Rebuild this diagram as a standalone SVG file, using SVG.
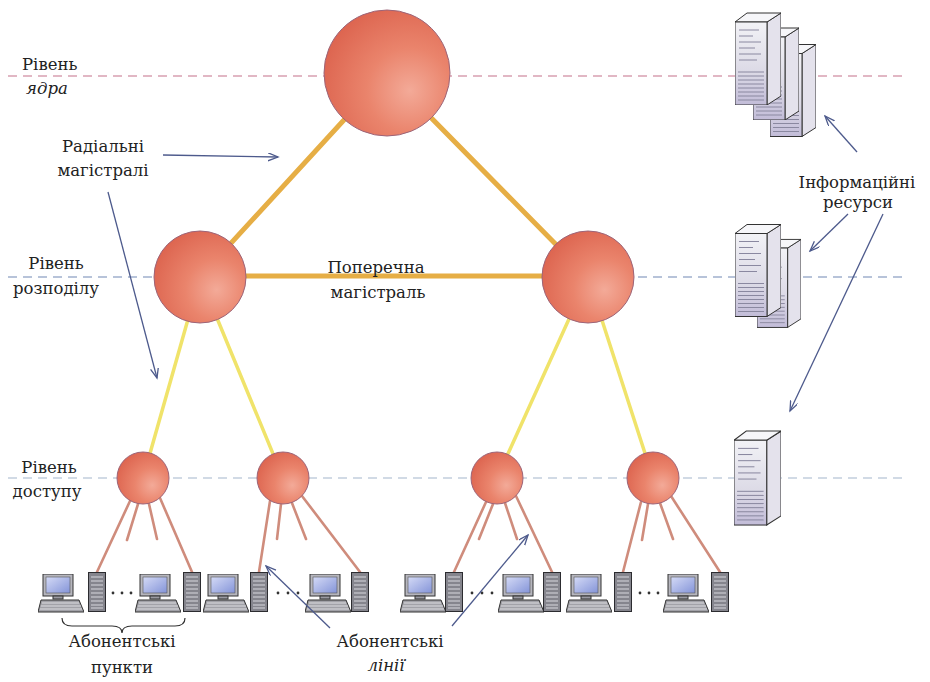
<svg xmlns="http://www.w3.org/2000/svg" width="930" height="682" viewBox="0 0 930 682">
<style>
  .t{font-family:"DejaVu Serif","Liberation Serif",serif;font-size:16.5px;fill:#222}
  .it{font-style:italic}
  .mid{text-anchor:middle}
  .lvl{fill:none;stroke-width:1.2;stroke-dasharray:9 6}
  .trunk{stroke:#e6ae45;stroke-width:5;stroke-linecap:round}
  .feed{stroke:#f0e36a;stroke-width:3.5;stroke-linecap:round}
  .sub{stroke:#cf8c7c;stroke-width:2.6;stroke-linecap:round}
  .node{fill:url(#ball);stroke:#9c6478;stroke-width:1}
  .ptr{fill:none;stroke:#4d5a8c;stroke-width:1.3;marker-end:url(#head)}
  .edge{stroke:#333;stroke-width:1}
</style>
<defs>
  <radialGradient id="ball" cx="0.68" cy="0.64" r="0.75">
    <stop offset="0" stop-color="#f3aa98"/>
    <stop offset="0.45" stop-color="#ea846c"/>
    <stop offset="1" stop-color="#dc634e"/>
  </radialGradient>
  <linearGradient id="front" x1="0" y1="0" x2="0" y2="1">
    <stop offset="0" stop-color="#f2f2f6"/>
    <stop offset="0.6" stop-color="#dcdae6"/>
    <stop offset="1" stop-color="#c2bcd8"/>
  </linearGradient>
  <linearGradient id="scr" x1="0" y1="0" x2="1" y2="1">
    <stop offset="0" stop-color="#d4daf6"/>
    <stop offset="1" stop-color="#8494d8"/>
  </linearGradient>
  <marker id="head" markerUnits="userSpaceOnUse" markerWidth="12" markerHeight="10" refX="10" refY="4" orient="auto">
    <path d="M0,0 L10,4 L0,8" fill="none" stroke="#4d5a8c" stroke-width="1.3"/>
  </marker>
  <!-- rack-mounted server tower -->
  <symbol id="tower" viewBox="0 0 46 95">
    <polygon points="32,12 46,3 46,86 32,95" fill="#e4e2ec" class="edge"/>
    <polygon points="0,12 12,3 46,3 32,12" fill="#f6f6f9" class="edge"/>
    <rect x="0" y="12" width="32" height="83" fill="url(#front)" class="edge"/>
    <g stroke="#8a88a0" stroke-width="1">
      <line x1="4" y1="20" x2="24" y2="20"/><line x1="4" y1="26" x2="18" y2="26"/>
      <line x1="4" y1="32" x2="26" y2="32"/><line x1="4" y1="38" x2="20" y2="38"/>
      <line x1="4" y1="44" x2="26" y2="44"/><line x1="4" y1="50" x2="22" y2="50"/>
      <line x1="3" y1="62" x2="29" y2="62"/><line x1="3" y1="66" x2="29" y2="66"/>
      <line x1="3" y1="70" x2="29" y2="70"/><line x1="3" y1="74" x2="29" y2="74"/>
      <line x1="3" y1="78" x2="29" y2="78"/><line x1="3" y1="82" x2="29" y2="82"/>
      <line x1="3" y1="86" x2="29" y2="86"/><line x1="3" y1="90" x2="29" y2="90"/>
    </g>
  </symbol>
  <!-- desktop terminal -->
  <symbol id="pc" viewBox="0 0 46 40">
    <rect x="5" y="0" width="30" height="22" fill="#b6b6be" class="edge"/>
    <rect x="8" y="3" width="24" height="16" fill="url(#scr)" stroke="#555" stroke-width="0.6"/>
    <rect x="15" y="22" width="10" height="3" fill="#9a9aa2" class="edge"/>
    <polygon points="3,26 41,26 46,38 0,38" fill="#a2a2a8" class="edge"/>
    <g stroke="#ececf0" stroke-width="0.8">
      <line x1="4" y1="29" x2="41" y2="29"/><line x1="3" y1="32" x2="43" y2="32"/><line x1="2" y1="35" x2="44" y2="35"/>
    </g>
  </symbol>
  <!-- subscriber system unit -->
  <symbol id="unit" viewBox="0 0 18 40">
    <rect x="0.5" y="0.5" width="17" height="39" fill="#85858d" stroke="#2c2c30" stroke-width="1"/>
    <g stroke="#d8d8de" stroke-width="1">
      <line x1="3" y1="5" x2="15" y2="5"/><line x1="3" y1="9" x2="15" y2="9"/>
      <line x1="3" y1="13" x2="15" y2="13"/><line x1="3" y1="17" x2="15" y2="17"/>
      <line x1="3" y1="21" x2="15" y2="21"/><line x1="3" y1="25" x2="15" y2="25"/>
      <line x1="3" y1="29" x2="15" y2="29"/><line x1="3" y1="33" x2="15" y2="33"/>
      <line x1="3" y1="36" x2="15" y2="36"/>
    </g>
  </symbol>
</defs>

<rect width="930" height="682" fill="#ffffff"/>

<!-- level guides -->
<g id="levels">
  <line class="lvl" x1="8" y1="76" x2="902" y2="76" stroke="#c4708a"/>
  <line class="lvl" x1="8" y1="277" x2="902" y2="277" stroke="#7088b4"/>
  <line class="lvl" x1="8" y1="478" x2="902" y2="478" stroke="#a4b6cc"/>
</g>

<!-- links between nodes -->
<g id="connectors">
  <line class="trunk" x1="387" y1="73" x2="200" y2="277"/>
  <line class="trunk" x1="387" y1="73" x2="588" y2="277"/>
  <line class="trunk" x1="200" y1="276" x2="588" y2="276"/>
  <line class="feed" x1="200" y1="277" x2="143" y2="478"/>
  <line class="feed" x1="200" y1="277" x2="283" y2="478"/>
  <line class="feed" x1="588" y1="277" x2="497" y2="478"/>
  <line class="feed" x1="588" y1="277" x2="653" y2="478"/>
  <line class="sub" x1="130" y1="501" x2="97" y2="572"/>
  <line class="sub" x1="138" y1="504" x2="127" y2="540"/>
  <line class="sub" x1="149" y1="504" x2="157" y2="539"/>
  <line class="sub" x1="160" y1="498" x2="192" y2="572"/>
  <line class="sub" x1="270" y1="501" x2="259" y2="572"/>
  <line class="sub" x1="281" y1="504" x2="277" y2="539"/>
  <line class="sub" x1="292" y1="503" x2="306" y2="539"/>
  <line class="sub" x1="302" y1="496" x2="360" y2="572"/>
  <line class="sub" x1="486" y1="502" x2="454" y2="572"/>
  <line class="sub" x1="493" y1="504" x2="479" y2="539"/>
  <line class="sub" x1="505" y1="503" x2="517" y2="539"/>
  <line class="sub" x1="516" y1="496" x2="552" y2="572"/>
  <line class="sub" x1="641" y1="502" x2="623" y2="572"/>
  <line class="sub" x1="648" y1="504" x2="642" y2="540"/>
  <line class="sub" x1="660" y1="503" x2="673" y2="539"/>
  <line class="sub" x1="671" y1="496" x2="720" y2="572"/>
</g>

<!-- switching nodes -->
<g id="node-core"><circle class="node" cx="387" cy="73" r="63"/></g>
<g id="node-dist-left"><circle class="node" cx="200" cy="277" r="46"/></g>
<g id="node-dist-right"><circle class="node" cx="588" cy="277" r="46"/></g>
<g id="node-access-1"><circle class="node" cx="143" cy="478" r="26"/></g>
<g id="node-access-2"><circle class="node" cx="283" cy="478" r="26"/></g>
<g id="node-access-3"><circle class="node" cx="497" cy="478" r="26"/></g>
<g id="node-access-4"><circle class="node" cx="653" cy="478" r="26"/></g>

<!-- information resources -->
<g id="resources-core">
  <use href="#tower" x="770" y="40" width="46" height="98"/>
  <use href="#tower" x="753" y="25" width="46" height="95"/>
  <use href="#tower" x="735" y="10" width="46" height="95"/>
</g>
<g id="resources-dist">
  <use href="#tower" x="757" y="232" width="44" height="100"/>
  <use href="#tower" x="735" y="218" width="46" height="102"/>
</g>
<g id="resources-access">
  <use href="#tower" x="734" y="425" width="47" height="103"/>
</g>

<!-- subscriber stations -->
<g id="stations">
  <use href="#pc" x="38" y="574" width="46" height="40"/>
  <use href="#unit" x="88" y="572" width="18" height="40"/>
  <use href="#pc" x="135" y="574" width="46" height="40"/>
  <use href="#unit" x="183" y="572" width="18" height="40"/>
  <use href="#pc" x="203" y="574" width="46" height="40"/>
  <use href="#unit" x="250" y="572" width="18" height="40"/>
  <use href="#pc" x="305" y="574" width="46" height="40"/>
  <use href="#unit" x="351" y="572" width="18" height="40"/>
  <use href="#pc" x="400" y="574" width="46" height="40"/>
  <use href="#unit" x="445" y="572" width="18" height="40"/>
  <use href="#pc" x="498" y="574" width="46" height="40"/>
  <use href="#unit" x="543" y="572" width="18" height="40"/>
  <use href="#pc" x="566" y="574" width="46" height="40"/>
  <use href="#unit" x="614" y="572" width="18" height="40"/>
  <use href="#pc" x="663" y="574" width="46" height="40"/>
  <use href="#unit" x="711" y="572" width="18" height="40"/>
  <g fill="#333">
    <circle cx="113" cy="593" r="1.4"/><circle cx="122" cy="593" r="1.4"/><circle cx="131" cy="593" r="1.4"/>
    <circle cx="278" cy="593" r="1.4"/><circle cx="288" cy="593" r="1.4"/><circle cx="298" cy="593" r="1.4"/>
    <circle cx="472" cy="593" r="1.4"/><circle cx="482" cy="593" r="1.4"/><circle cx="492" cy="593" r="1.4"/>
    <circle cx="640" cy="593" r="1.4"/><circle cx="649" cy="593" r="1.4"/><circle cx="658" cy="593" r="1.4"/>
  </g>
  <path d="M62,618 Q62,626 72,626 L112,626 Q122,626 122,633 Q122,626 132,626 L175,626 Q185,626 185,618" fill="none" stroke="#333" stroke-width="1.2"/>
</g>

<!-- callout pointers -->
<g id="pointers">
  <line class="ptr" x1="163" y1="155" x2="278" y2="157"/>
  <line class="ptr" x1="108" y1="192" x2="157" y2="378"/>
  <line class="ptr" x1="857" y1="152" x2="825" y2="116"/>
  <line class="ptr" x1="848" y1="214" x2="810" y2="251"/>
  <line class="ptr" x1="883" y1="214" x2="790" y2="411"/>
  <line class="ptr" x1="330" y1="628" x2="266" y2="566"/>
  <line class="ptr" x1="452" y1="626" x2="528" y2="535"/>
</g>

<!-- labels -->
<g id="labels">
  <text class="t" x="22" y="70">Рівень</text>
  <text class="t it" x="26" y="94">ядра</text>
  <text class="t mid" x="103" y="152">Радіальні</text>
  <text class="t mid" x="103" y="176">магістралі</text>
  <text class="t mid" x="56" y="269">Рівень</text>
  <text class="t mid" x="56" y="294">розподілу</text>
  <text class="t mid" x="376" y="273">Поперечна</text>
  <text class="t mid" x="378" y="298">магістраль</text>
  <text class="t mid" x="49" y="473">Рівень</text>
  <text class="t mid" x="47" y="497">доступу</text>
  <text class="t mid" x="857" y="188">Інформаційні</text>
  <text class="t mid" x="858" y="208">ресурси</text>
  <text class="t mid" x="122" y="647">Абонентські</text>
  <text class="t mid" x="122" y="673">пункти</text>
  <text class="t mid" x="390" y="647">Абонентські</text>
  <text class="t mid it" x="386" y="671">лінії</text>
</g>
</svg>
